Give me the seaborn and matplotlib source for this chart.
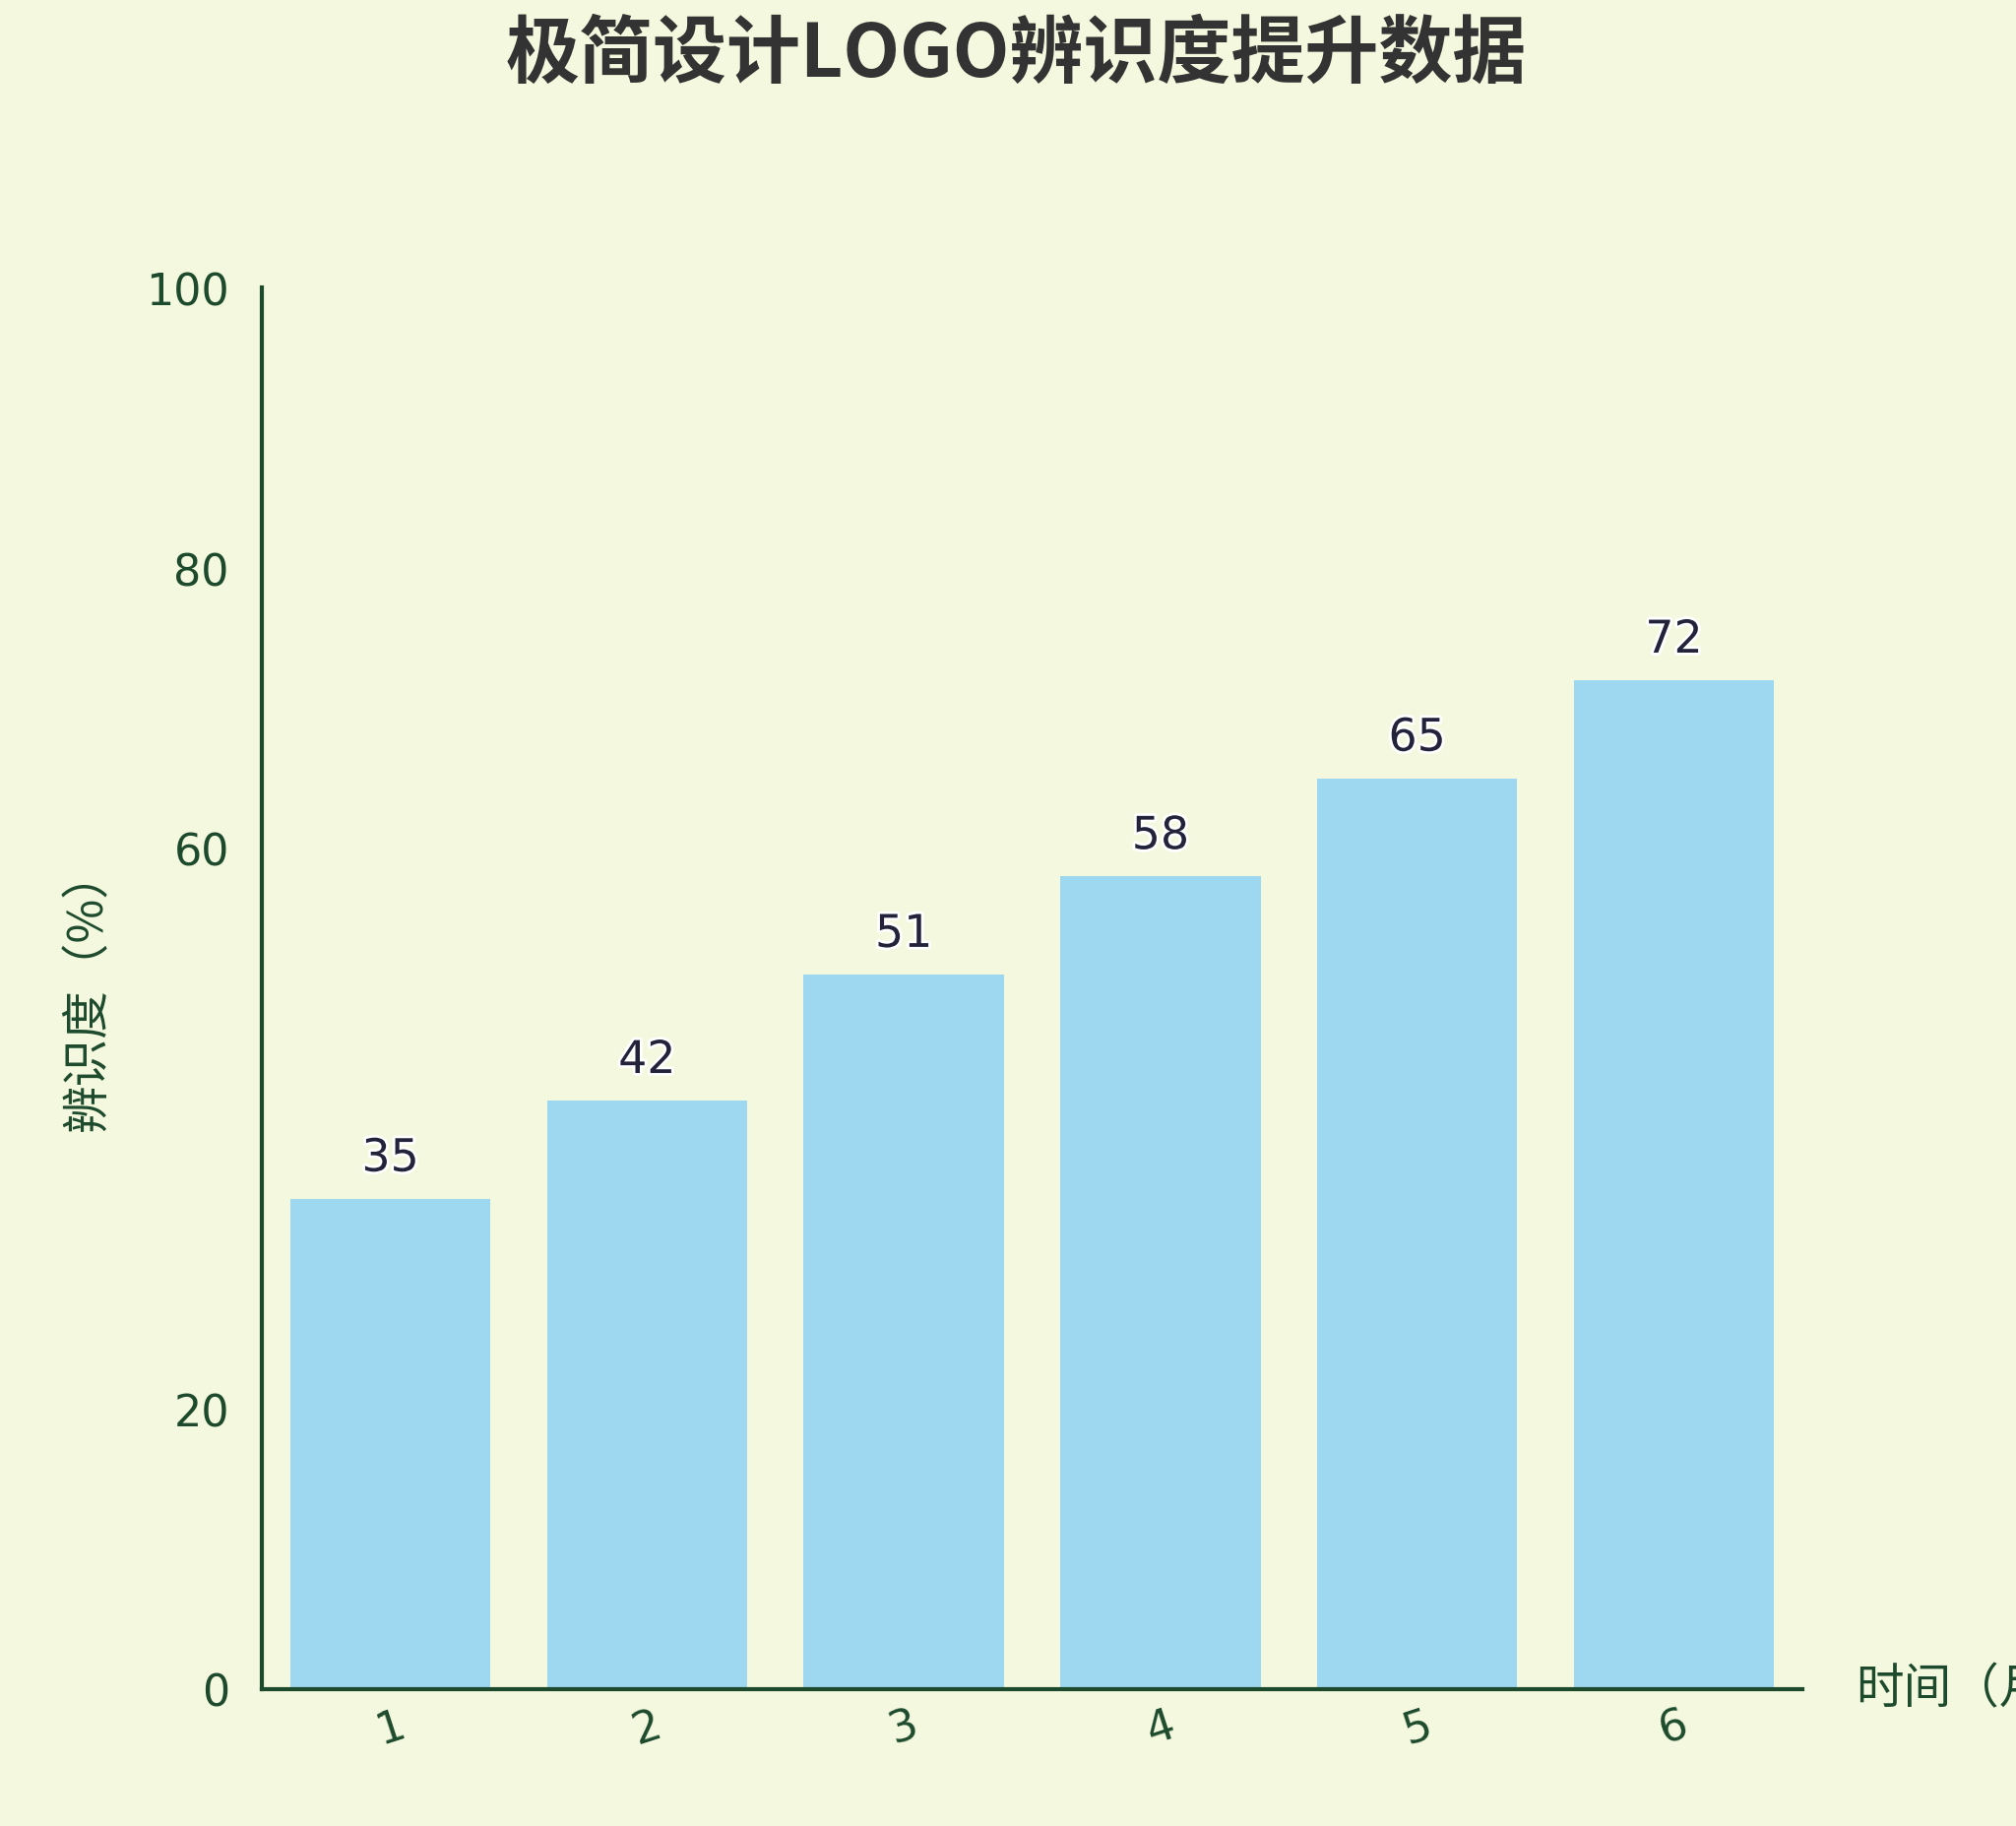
import matplotlib
matplotlib.use("Agg")
import matplotlib.pyplot as plt
import matplotlib.patheffects as pe
import seaborn as sns
import pandas as pd

# ---- data ----
months = ["1", "2", "3", "4", "5", "6"]
recognition = [35, 42, 51, 58, 65, 72]
y_ticks = [0, 20, 60, 80, 100]
title_text = "极简设计LOGO辨识度提升数据"
x_label = "时间（月）"
y_label = "辨识度（%）"

bg = "#f3f8de"
bar_color = "#9dd7f0"
axis_green = "#1d4a2c"

sns.set_theme(style="white")
plt.rcParams["font.family"] = ["DejaVu Sans", "Noto Sans CJK SC"]

fig = plt.figure(figsize=(20.48, 18.56), dpi=100, facecolor=bg)
ax = fig.add_axes([0.130, 0.0749, 0.764, 0.767])
ax.set_facecolor(bg)

df = pd.DataFrame({"month": months, "value": recognition})
sns.barplot(data=df, x="month", y="value", color=bar_color, saturation=1,
            width=0.78, ax=ax, edgecolor="none")

ax.set_xlim(-0.5, len(months) - 0.5)
ax.set_ylim(0, 100)

# major ticks at bar boundaries, labels at bar centres (minor)
ax.set_xticks([i - 0.5 for i in range(len(months) + 1)])
ax.set_xticklabels([""] * (len(months) + 1))
ax.set_xticks(range(len(months)), minor=True)
ax.set_xticklabels(months, minor=True, rotation=18, fontsize=32, color=axis_green)
ax.tick_params(axis="x", which="major", length=13, width=2.2, color=axis_green, direction="out")
ax.tick_params(axis="x", which="minor", length=0, pad=10)

ax.set_yticks(y_ticks)
ax.set_yticklabels([str(t) for t in y_ticks], fontsize=32, color=axis_green)
ax.tick_params(axis="y", length=0, pad=24)

for s in ["top", "right"]:
    ax.spines[s].set_visible(False)
for s in ["left", "bottom"]:
    ax.spines[s].set_color(axis_green)
    ax.spines[s].set_linewidth(3)

# value labels
for cont in ax.containers:
    labels = ax.bar_label(cont, labels=[str(v) for v in recognition], padding=13,
                          fontsize=33, color="#22223a")
    for t in labels:
        t.set_path_effects([pe.withStroke(linewidth=4, foreground="white")])

ax.set_xlabel(x_label, fontsize=35, color=axis_green, family=["Noto Sans CJK SC"],
              ha="left", va="center")
ax.xaxis.set_label_coords(1.0345, 0.0)
ax.set_ylabel(y_label, fontsize=35, color=axis_green, family=["Noto Sans CJK SC"])
ax.yaxis.set_label_coords(-0.097, 0.5)

fig.text(0.504, 0.970, title_text, ha="center", va="center", fontsize=54,
         fontweight="bold", color="#333333", family=["Noto Sans CJK SC"])

fig.savefig("out.png", dpi=100, facecolor=bg)
